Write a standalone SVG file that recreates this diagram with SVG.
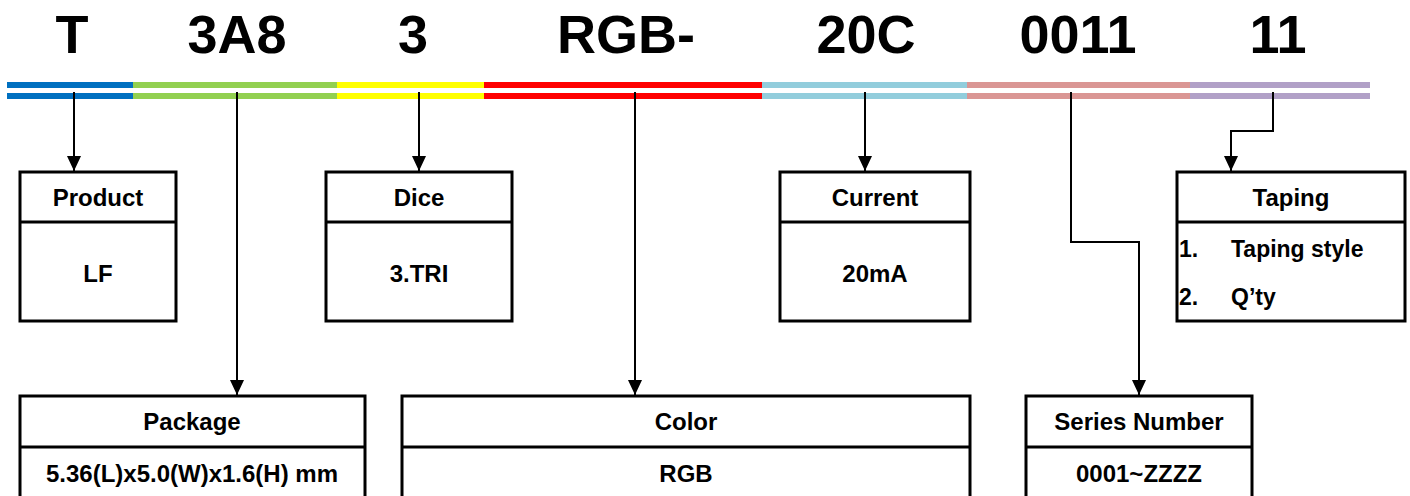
<svg xmlns="http://www.w3.org/2000/svg" width="1410" height="496" viewBox="0 0 1410 496">
<defs>
<style>
.code{font-family:"Liberation Sans",Arial,sans-serif;font-weight:bold;font-size:54px;fill:#000;text-anchor:middle}
.t{font-family:"Liberation Sans",Arial,sans-serif;font-weight:bold;font-size:24px;fill:#000;text-anchor:middle}
.tl{font-family:"Liberation Sans",Arial,sans-serif;font-weight:bold;font-size:23px;fill:#000}
.box{fill:#fff;stroke:#000;stroke-width:3}
.div{stroke:#000;stroke-width:3}
.conn{fill:none;stroke:#000;stroke-width:2;marker-end:url(#arr)}
</style>
<marker id="arr" markerUnits="userSpaceOnUse" markerWidth="15" markerHeight="14" refX="15" refY="7" orient="auto">
<path d="M0,0 L15,7 L0,14 z" fill="#000"/>
</marker>
</defs>
<rect width="1410" height="496" fill="#fff"/>
<g id="code">
<text class="code" x="72" y="53">T</text>
<text class="code" x="237" y="53">3A8</text>
<text class="code" x="413" y="53">3</text>
<text class="code" x="626" y="53">RGB-</text>
<text class="code" x="866" y="53">20C</text>
<text class="code" x="1078" y="53">0011</text>
<text class="code" x="1278" y="53">11</text>
</g>
<g id="bars">
<rect x="7" y="82" width="126" height="6" fill="#0070C0"/><rect x="7" y="93" width="126" height="6" fill="#0070C0"/>
<rect x="133" y="82" width="204" height="6" fill="#92D050"/><rect x="133" y="93" width="204" height="6" fill="#92D050"/>
<rect x="337" y="82" width="147" height="6" fill="#FFFF00"/><rect x="337" y="93" width="147" height="6" fill="#FFFF00"/>
<rect x="484" y="82" width="278" height="6" fill="#FF0000"/><rect x="484" y="93" width="278" height="6" fill="#FF0000"/>
<rect x="762" y="82" width="205" height="6" fill="#92CDDC"/><rect x="762" y="93" width="205" height="6" fill="#92CDDC"/>
<rect x="967" y="82" width="223" height="6" fill="#DA9694"/><rect x="967" y="93" width="223" height="6" fill="#DA9694"/>
<rect x="1190" y="82" width="180" height="6" fill="#B1A0C7"/><rect x="1190" y="93" width="180" height="6" fill="#B1A0C7"/>
</g>
<g id="connectors">
<path class="conn" d="M74,92 V171"/>
<path class="conn" d="M237,92 V395"/>
<path class="conn" d="M419,92 V171"/>
<path class="conn" d="M635,92 V395"/>
<path class="conn" d="M865,92 V171"/>
<path class="conn" d="M1071,92 V242 H1139 V395"/>
<path class="conn" d="M1273,92 V131 H1231 V171"/>
</g>
<g id="product">
<rect class="box" x="20" y="172" width="156" height="149"/>
<line class="div" x1="20" y1="222" x2="176" y2="222"/>
<text class="t" x="98" y="206">Product</text>
<text class="t" x="98" y="282">LF</text>
</g>
<g id="dice">
<rect class="box" x="326" y="172" width="186" height="149"/>
<line class="div" x1="326" y1="222" x2="512" y2="222"/>
<text class="t" x="419" y="206">Dice</text>
<text class="t" x="419" y="282">3.TRI</text>
</g>
<g id="current">
<rect class="box" x="780" y="172" width="190" height="149"/>
<line class="div" x1="780" y1="222" x2="970" y2="222"/>
<text class="t" x="875" y="206">Current</text>
<text class="t" x="875" y="282">20mA</text>
</g>
<g id="taping">
<rect class="box" x="1177" y="172" width="228" height="149"/>
<line class="div" x1="1177" y1="222" x2="1405" y2="222"/>
<text class="t" x="1291" y="206">Taping</text>
<text class="tl" x="1179" y="257">1.</text>
<text class="tl" x="1231" y="257">Taping style</text>
<text class="tl" x="1179" y="305">2.</text>
<text class="tl" x="1231" y="305">Q’ty</text>
</g>
<g id="package">
<rect class="box" x="20" y="396" width="345" height="130"/>
<line class="div" x1="20" y1="447" x2="365" y2="447"/>
<text class="t" x="192" y="430">Package</text>
<text class="t" x="192" y="482">5.36(L)x5.0(W)x1.6(H) mm</text>
</g>
<g id="color">
<rect class="box" x="402" y="396" width="568" height="130"/>
<line class="div" x1="402" y1="447" x2="970" y2="447"/>
<text class="t" x="686" y="430">Color</text>
<text class="t" x="686" y="482">RGB</text>
</g>
<g id="series">
<rect class="box" x="1026" y="396" width="226" height="130"/>
<line class="div" x1="1026" y1="447" x2="1252" y2="447"/>
<text class="t" x="1139" y="430">Series Number</text>
<text class="t" x="1139" y="482">0001~ZZZZ</text>
</g>
</svg>
